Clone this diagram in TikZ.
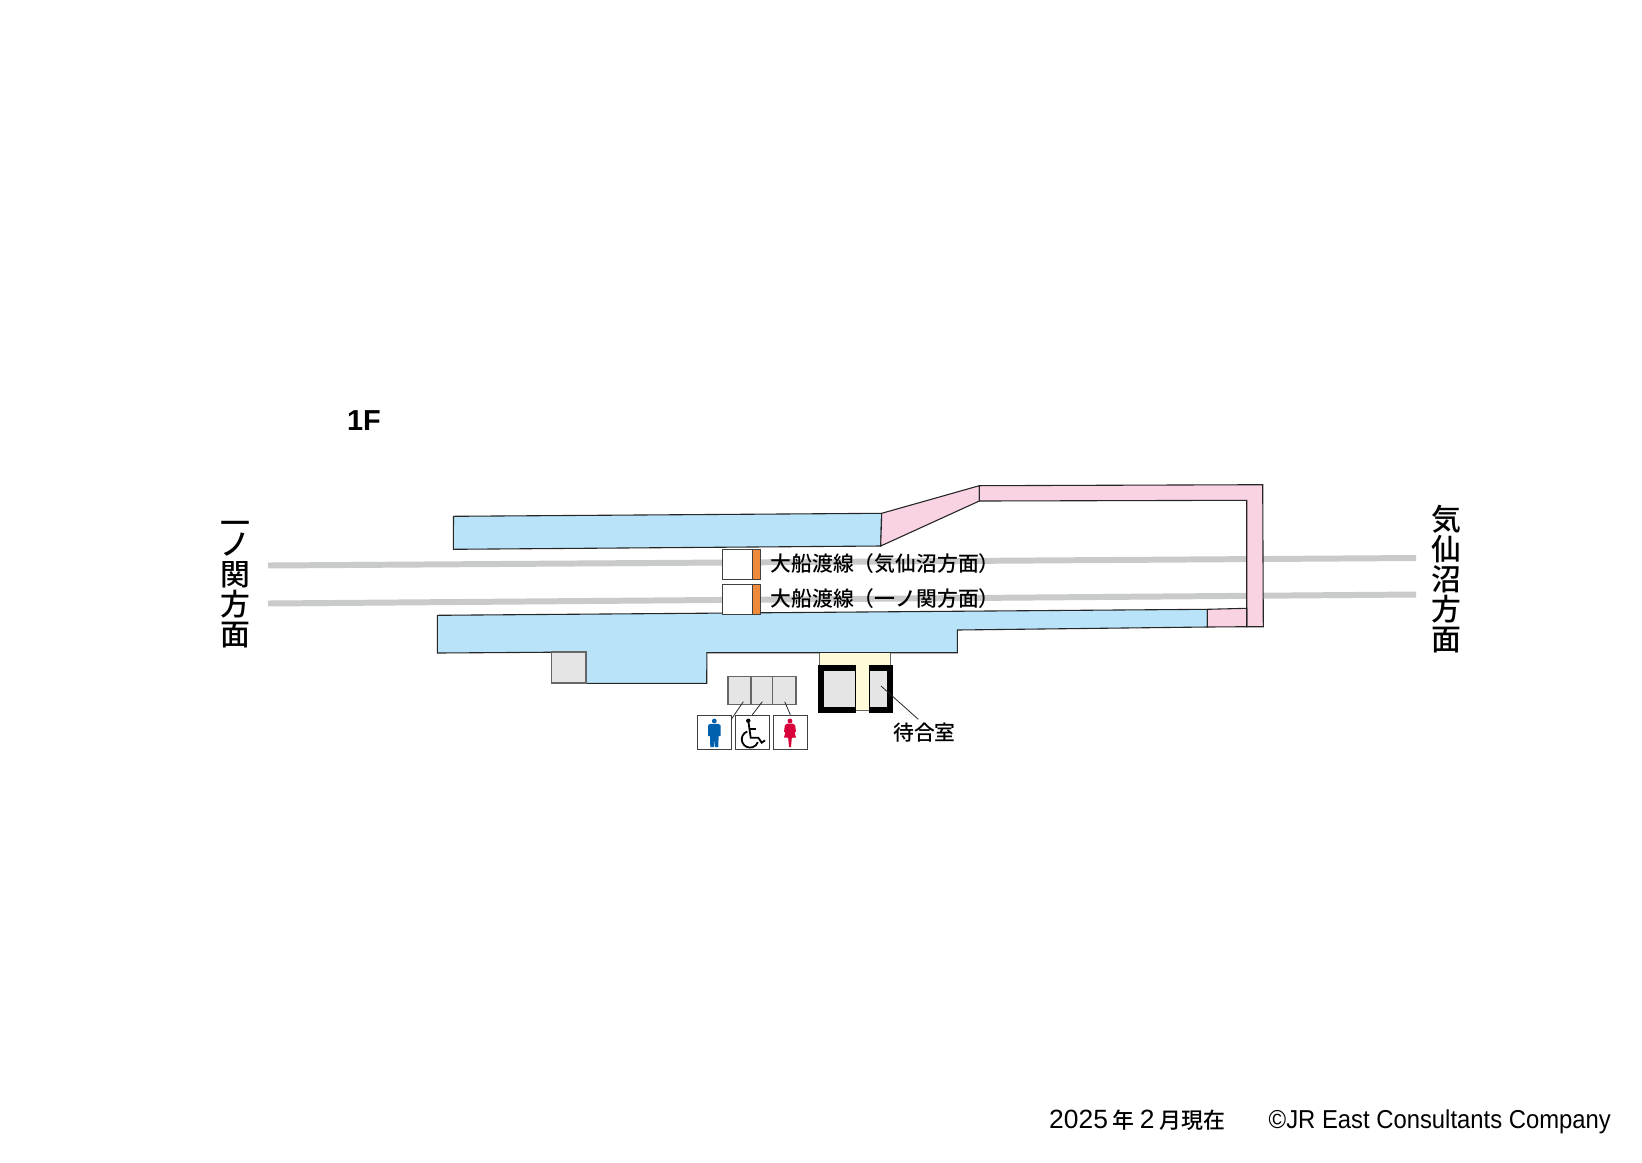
\documentclass[tikz,border=0pt]{standalone}
\usepackage{fontspec}
\setmainfont{Liberation Sans}
\newfontfamily\jpfont{Noto Sans CJK JP Medium}
\newfontfamily\creditfont[FakeStretch=0.92]{Liberation Sans}
\definecolor{platblue}{HTML}{B9E3F9}
\definecolor{bridgepink}{HTML}{F9D2E4}
\definecolor{railgray}{HTML}{C9CACA}
\definecolor{roomgray}{HTML}{E5E5E5}
\definecolor{hallyellow}{HTML}{FFFBD9}
\definecolor{signorange}{HTML}{EF8A3A}
\definecolor{manblue}{HTML}{0060AE}
\definecolor{ladyred}{HTML}{D7003A}
\tikzset{
  outline/.style={draw=black!85,line width=1.1pt},
  platform/.style={outline,fill=platblue},
  bridge/.style={outline,fill=bridgepink},
  room/.style={draw=black!60,line width=1.1pt,fill=roomgray},
  rail/.style={railgray,line width=6pt},
  leader/.style={black!85,line width=0.8pt},
  iconbox/.style={draw=black!75,line width=1.1pt,fill=white},
  wall/.style={line width=6pt,black},
  jplabel/.style={font=\jpfont\fontsize{20.9}{20.9}\selectfont,inner sep=0pt},
  jpside/.style={font=\jpfont\fontsize{30}{30}\selectfont,inner sep=0pt,align=center}
}
\begin{document}
\begin{tikzpicture}[x=1bp,y=-1bp]
\useasboundingbox (0,-1) rectangle (1642,1161);
% rails
\coordinate (railAw) at (268,564.5);
\coordinate (railAe) at (1416,557);
\coordinate (railBw) at (268,602.5);
\coordinate (railBe) at (1416,593.5);
\draw [rail] (railAw)-- (railAe);
\draw [rail] (railBw)-- (railBe);
% platforms
\draw [platform] (453.5,515.3)-- (881.7,512.3)-- (880.7,545)-- (453.3,548.3)-- cycle;
\draw [platform] (437.3,614.3)-- (1207.3,608.3)-- (1207.3,626)-- (957.3,629)-- (957.3,651.7)-- (706.9,651.7)-- (706.7,682.3)-- (586,682.3)-- (586,651)-- (437.3,652)-- cycle;
\draw [room] (551.7,651)-- (586,651)-- (586,682)-- (551.7,682)-- cycle;
% bridge
\draw [bridge] (881.7,512.3)-- (979.3,484.7)-- (979.3,500)-- (880.7,545)-- cycle;
\draw [bridge] (979.3,484.7)-- (1262.7,483.7)-- (1263.3,625.7)-- (1246.7,625.7)-- (1246.7,499.3)-- (979.3,500)-- cycle;
\draw [bridge] (1207.3,608.3)-- (1246.7,607.3)-- (1246.7,625.7)-- (1207.3,626)-- cycle;
% signs
\node [iconbox,minimum width=38bp,minimum height=30bp,inner sep=0pt] (signA) at (741.7,563.7) {};
\node [iconbox,minimum width=38bp,minimum height=30bp,inner sep=0pt] (signB) at (741.7,598.3) {};
\fill [signorange] (752.5,549) rectangle (760.5,578.4);
\fill [signorange] (752.5,583.6) rectangle (760.5,613);
\draw [black!75,line width=1.1pt] (752.3,548.7)-- (752.3,578.7) (752.3,583.3)-- (752.3,613.3);
\draw [black!75,line width=1.1pt] (760.7,548.7)-- (760.7,578.7) (760.7,583.3)-- (760.7,613.3);
\node [jplabel,anchor=west] (lineA) at (770.5,563) {大船渡線（気仙沼方面）};
\node [jplabel,anchor=west] (lineB) at (770.5,597.5) {大船渡線（一ノ関方面）};
% waiting room
\fill [hallyellow] (819.7,651.7) rectangle (890.3,666);
\fill [hallyellow] (856,660) rectangle (869,709);
\draw [black!60,line width=0.8pt] (819.7,651.7)-- (819.7,665) (890.3,651.7)-- (890.3,665) (856,709.5)-- (869,709.5);
\fill [roomgray] (821,668) rectangle (855,709);
\fill [roomgray] (870,668) rectangle (888,709);
\draw [wall] (856,667)-- (820.8,667)-- (820.8,708.8)-- (856,708.8);
\draw [wall] (869,667)-- (889.7,667)-- (889.7,708.8)-- (869,708.8);
\draw [black,line width=0.8pt] (855.6,664)-- (855.6,711.8) (869.4,664)-- (869.4,711.8);
\coordinate (roomin) at (881,685);
\coordinate (roomout) at (918.3,718.3);
\draw [leader] (roomin)-- (roomout);
\node [jplabel,anchor=center] (roomlabel) at (924.5,731.7) {待合室};
% toilets
\draw [room] (728,675.7) rectangle (796,703.3);
\draw [room] (751,675.7)-- (751,703.3) (772.7,675.7)-- (772.7,703.3);
\node [iconbox,minimum size=34bp,inner sep=0pt] (mbox) at (714.3,731.3) {};
\node [iconbox,minimum size=34bp,inner sep=0pt] (wbox) at (752.3,731.3) {};
\node [iconbox,minimum size=34bp,inner sep=0pt] (fbox) at (790.3,731.3) {};
\coordinate (mroom) at (743.3,700.7);
\coordinate (wroom) at (762.3,700.7);
\coordinate (froom) at (784.7,700.7);
\draw [leader] (mroom)-- (731.3,718.3);
\draw [leader] (wroom)-- (wbox.north);
\draw [leader] (froom)-- (fbox.north);
% man
\fill [manblue] (714.3,720) circle (2.4);
\fill [manblue] (710,722.8)-- (718.6,722.8)-- (720.6,724.5)-- (720.6,735)-- (718.6,735)-- (718.3,746)-- (714.8,746)-- (714.3,737)-- (713.8,746)-- (710.3,746)-- (710,735)-- (708,735)-- (708,724.5)-- cycle;
% woman
\fill [ladyred] (790,720) circle (2.4);
\fill [ladyred] (787,722.6)-- (793,722.6)-- (795.2,724.5)-- (796,731)-- (794.6,731.3)-- (796,736.5)-- (791.8,736.8)-- (791,746)-- (789,746)-- (788.2,736.8)-- (784,736.5)-- (785.4,731.3)-- (784,731)-- (784.8,724.5)-- cycle;
% wheelchair
\fill [black] (748.3,719.8) circle (2.2);
\draw [black,line width=1.8pt] (748.6,722)-- (750.7,736.7)-- (758.3,736.7)-- (761.7,741.7)-- (765,739.3);
\draw [black,line width=1.8pt] (749.3,728.3)-- (755.5,728.3);
\draw [black,line width=1.8pt] (747.2,730.5) arc [start angle=110,end angle=340,radius=8.3bp];
% floor, direction and footer texts
\node [font=\bfseries\fontsize{29}{29}\selectfont,inner sep=0pt] (floor) at (364,419.5) {1F};
\node [jpside] (west) at (235.5,583.5) {一\\[-9bp]ノ\\関\\方\\面};
\node [jpside] (east) at (1446,578) {気\\仙\\沼\\方\\面};
\node [font=\fontsize{26.5}{26.5}\selectfont,inner sep=0pt,anchor=base west] (date) at (1049,1127.5) {2025\hspace*{5bp}{\jpfont\fontsize{22}{22}\selectfont 年}\hspace*{5bp}2\hspace*{5bp}{\jpfont\fontsize{22}{22}\selectfont 月現在}};
\node [font=\creditfont\fontsize{26}{26}\selectfont,inner sep=0pt,anchor=base east] (credit) at (1611,1127.5) {©JR East Consultants Company};
\end{tikzpicture}
\end{document}
